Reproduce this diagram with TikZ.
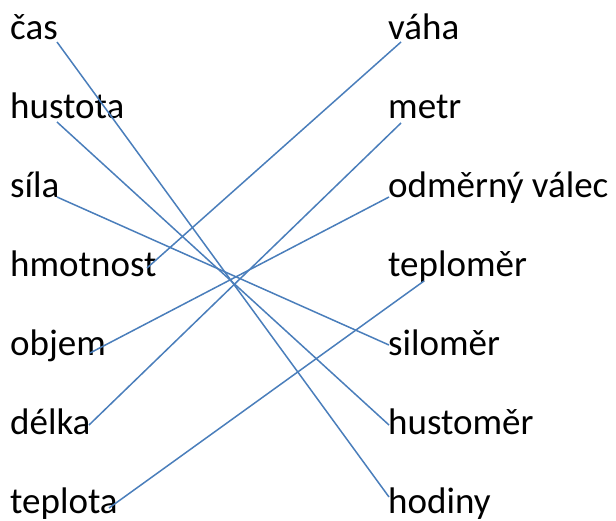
\documentclass[tikz,border=0pt]{standalone}
\usepackage{fontspec}
\setmainfont{Carlito}
\usetikzlibrary{calc}

\definecolor{linkblue}{HTML}{4A7EBB}

\begin{document}
\begin{tikzpicture}[
		x=1pt, y=-1pt,
		word/.style={inner sep=0pt, anchor=base west, font=\fontsize{37}{40}\selectfont},
		link/.style={draw=linkblue, line width=1.5pt}
	]
	\useasboundingbox (0,0) rectangle (616,520);

	\node[word] (cas) at (10,39) {čas};
	\node[word] (hustota) at (10,118) {hustota};
	\node[word] (sila) at (10,197) {síla};
	\node[word] (hmotnost) at (10,276) {hmotnost};
	\node[word] (objem) at (10,355) {objem};
	\node[word] (delka) at (10,434) {délka};
	\node[word] (teplota) at (10,513) {teplota};

	\node[word] (vaha) at (388,39) {váha};
	\node[word] (metr) at (388,118) {metr};
	\node[word] (valec) at (388,197) {odměrný válec};
	\node[word] (teplomer) at (388,276) {teploměr};
	\node[word] (silomer) at (388,355) {siloměr};
	\node[word] (hustomer) at (388,434) {hustoměr};
	\node[word] (hodiny) at (388,513) {hodiny};

	\draw[link] ($(cas.base west)+(47,3)$) -- ($(hodiny.base west)+(1,-16)$);
	\draw[link] ($(hustota.base west)+(47,4)$) -- ($(hustomer.base west)+(1,-9)$);
	\draw[link] ($(sila.base west)+(47,0)$) -- ($(silomer.base west)+(1,-10)$);
	\draw[link] ($(hmotnost.base west)+(137,-8)$) -- ($(vaha.base west)+(13,3)$);
	\draw[link] ($(objem.base west)+(80,-2)$) -- ($(valec.base west)+(1,0)$);
	\draw[link] ($(delka.base west)+(79,-9)$) -- ($(metr.base west)+(13,5)$);
	\draw[link] ($(teplota.base west)+(99,-5)$) -- ($(teplomer.base west)+(36,5)$);
\end{tikzpicture}
\end{document}
